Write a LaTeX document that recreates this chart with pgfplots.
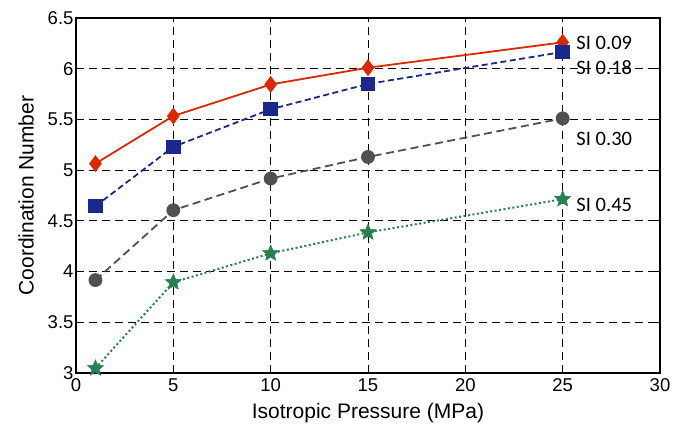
\documentclass[border=0pt]{standalone}
\usepackage{pgfplots}
\pgfplotsset{compat=1.18}
\usepackage{fontspec}
\setmainfont{Liberation Sans}
\newfontfamily\labfont{Carlito}
\definecolor{cred}{RGB}{218,40,0}
\definecolor{cblue}{RGB}{26,40,140}
\definecolor{cgray}{RGB}{80,80,80}
\definecolor{cgreen}{RGB}{40,128,80}
\pgfdeclareplotmark{fstar}{%
  \pgfpathmoveto{\pgfqpointpolar{90}{\pgfplotmarksize}}%
  \pgfpathlineto{\pgfqpointpolar{126}{0.45\pgfplotmarksize}}%
  \pgfpathlineto{\pgfqpointpolar{162}{\pgfplotmarksize}}%
  \pgfpathlineto{\pgfqpointpolar{198}{0.45\pgfplotmarksize}}%
  \pgfpathlineto{\pgfqpointpolar{234}{\pgfplotmarksize}}%
  \pgfpathlineto{\pgfqpointpolar{270}{0.45\pgfplotmarksize}}%
  \pgfpathlineto{\pgfqpointpolar{306}{\pgfplotmarksize}}%
  \pgfpathlineto{\pgfqpointpolar{342}{0.45\pgfplotmarksize}}%
  \pgfpathlineto{\pgfqpointpolar{18}{\pgfplotmarksize}}%
  \pgfpathlineto{\pgfqpointpolar{54}{0.45\pgfplotmarksize}}%
  \pgfpathclose
  \pgfusepathqfillstroke}
\begin{document}
\begin{tikzpicture}
\begin{axis}[
  scale only axis,
  width=584pt, height=355pt,
  xmin=0, xmax=30, ymin=3, ymax=6.5,
  xtick={0,5,...,30},
  ytick={3,3.5,...,6.5},
  yticklabels={3,3.5,4,4.5,5,5.5,6,6.5},
  /pgf/number format/assume math mode=true,
  tick label style={font=\fontsize{18.5}{22}\selectfont},
  label style={font=\fontsize{21}{24}\selectfont},
  xlabel={Isotropic Pressure (MPa)},
  ylabel={Coordination Number},
  xlabel style={yshift=-5pt},
  ylabel style={yshift=7pt},
  yticklabel style={xshift=1pt},
  xticklabel style={yshift=-2pt},
  grid=major,
  major grid style={black, dash pattern=on 8pt off 5pt, line width=0.8pt},
  axis line style={black, line width=1.3pt},
  tick style={black, line width=0.8pt},
  tick align=inside,
  clip=false,
]
\addplot[cred, solid, line width=1.8pt, mark=diamond*, mark size=7pt, mark options={solid}]
  coordinates {(1,5.065) (5,5.534) (10,5.845) (15,6.01) (25,6.26)};
\addplot[cblue, dash pattern=on 6pt off 3.5pt, line width=1.8pt, mark=square*, mark size=6.3pt, mark options={solid}]
  coordinates {(1,4.645) (5,5.23) (10,5.60) (15,5.85) (25,6.165)};
\addplot[cgray, dash pattern=on 8pt off 4.5pt, line width=1.8pt, mark=*, mark size=6pt, mark options={solid}]
  coordinates {(1,3.916) (5,4.605) (10,4.917) (15,5.13) (25,5.51)};
\addplot[cgreen, dash pattern=on 2pt off 2.5pt, line width=2pt, mark=fstar, mark size=8.5pt, mark options={solid, line width=0.5pt}]
  coordinates {(1,3.047) (5,3.894) (10,4.18) (15,4.386) (25,4.714)};
\node[anchor=west, font=\labfont\fontsize{20.5}{24}\selectfont, inner sep=0pt] at (axis cs:25.7,6.25) {SI 0.09};
\node[anchor=west, font=\labfont\fontsize{20.5}{24}\selectfont, inner sep=0pt] at (axis cs:25.7,6.01) {SI 0.18};
\node[anchor=west, font=\labfont\fontsize{20.5}{24}\selectfont, inner sep=0pt] at (axis cs:25.7,5.31) {SI 0.30};
\node[anchor=west, font=\labfont\fontsize{20.5}{24}\selectfont, inner sep=0pt] at (axis cs:25.7,4.655) {SI 0.45};
\end{axis}
\path (-76pt,-51pt) rectangle (598pt,373pt);
\end{tikzpicture}
\end{document}
